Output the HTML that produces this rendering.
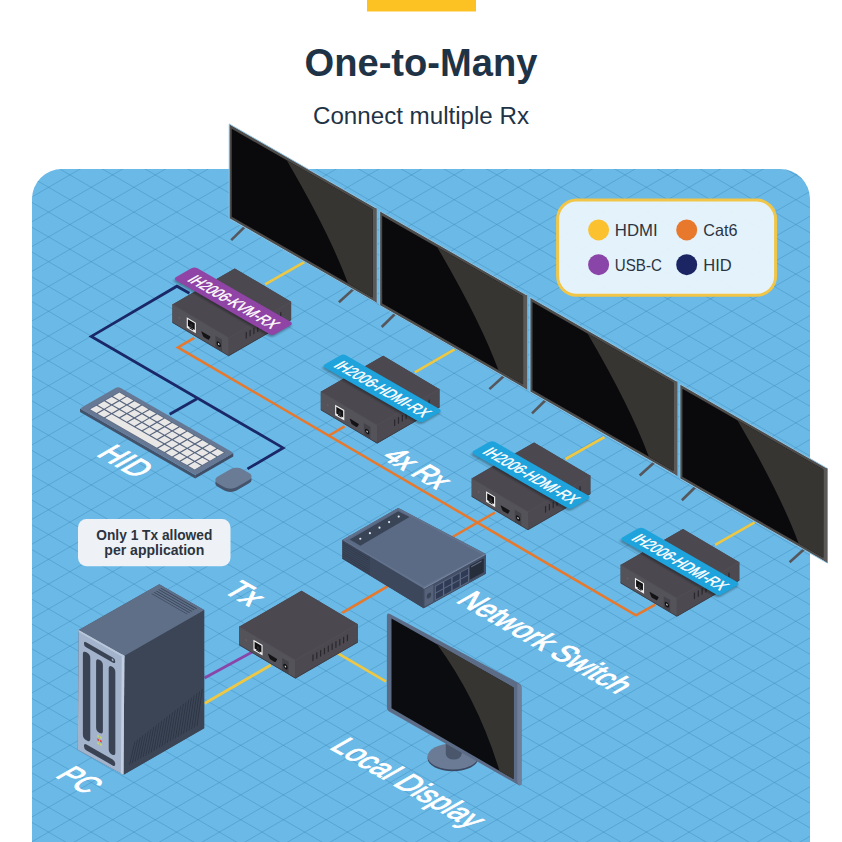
<!DOCTYPE html><html><head><meta charset="utf-8"><style>html,body{margin:0;padding:0;background:#fff;width:842px;height:842px;overflow:hidden}svg{display:block}</style></head><body><svg width="842" height="842" viewBox="0 0 842 842">
<rect width="842" height="842" fill="#ffffff"/>
<rect x="367" y="0" width="109" height="11.5" fill="#fcc224"/>
<text x="421" y="75.5" text-anchor="middle" font-family='"Liberation Sans", sans-serif' font-size="38.5" font-weight="bold" fill="#1f3347" textLength="233" lengthAdjust="spacingAndGlyphs">One-to-Many</text>
<text x="421" y="124" text-anchor="middle" font-family='"Liberation Sans", sans-serif' font-size="23.5" fill="#1f3347" textLength="216" lengthAdjust="spacingAndGlyphs">Connect multiple Rx</text>
<defs><filter id="blur" x="-20%" y="-50%" width="140%" height="200%"><feGaussianBlur stdDeviation="1.2"/></filter><clipPath id="bg"><rect x="32" y="169" width="778" height="720" rx="30"/></clipPath></defs>
<rect x="32" y="169" width="778" height="720" rx="30" fill="#6ab9e6"/>
<g clip-path="url(#bg)">
<path d="M0,-981.7 L842,-492.67 M0,-956.9 L842,-467.87 M0,-932.1 L842,-443.07 M0,-907.3 L842,-418.27 M0,-882.5 L842,-393.47 M0,-857.7 L842,-368.67 M0,-832.9 L842,-343.87 M0,-808.1 L842,-319.07 M0,-783.3 L842,-294.27 M0,-758.5 L842,-269.47 M0,-733.7 L842,-244.67 M0,-708.9 L842,-219.87 M0,-684.1 L842,-195.07 M0,-659.3 L842,-170.27 M0,-634.5 L842,-145.47 M0,-609.7 L842,-120.67 M0,-584.9 L842,-95.87 M0,-560.1 L842,-71.07 M0,-535.3 L842,-46.27 M0,-510.5 L842,-21.47 M0,-485.7 L842,3.33 M0,-460.9 L842,28.13 M0,-436.1 L842,52.93 M0,-411.3 L842,77.73 M0,-386.5 L842,102.53 M0,-361.7 L842,127.33 M0,-336.9 L842,152.13 M0,-312.1 L842,176.93 M0,-287.3 L842,201.73 M0,-262.5 L842,226.53 M0,-237.7 L842,251.33 M0,-212.9 L842,276.13 M0,-188.1 L842,300.93 M0,-163.3 L842,325.73 M0,-138.5 L842,350.53 M0,-113.7 L842,375.33 M0,-88.9 L842,400.13 M0,-64.1 L842,424.93 M0,-39.3 L842,449.73 M0,-14.5 L842,474.53 M0,10.3 L842,499.33 M0,35.1 L842,524.13 M0,59.9 L842,548.93 M0,84.7 L842,573.73 M0,109.5 L842,598.53 M0,134.3 L842,623.33 M0,159.1 L842,648.13 M0,183.9 L842,672.93 M0,208.7 L842,697.73 M0,233.5 L842,722.53 M0,258.3 L842,747.33 M0,283.1 L842,772.13 M0,307.9 L842,796.93 M0,332.7 L842,821.73 M0,357.5 L842,846.53 M0,382.3 L842,871.33 M0,407.1 L842,896.13 M0,431.9 L842,920.93 M0,456.7 L842,945.73 M0,481.5 L842,970.53 M0,506.3 L842,995.33 M0,531.1 L842,1020.13 M0,555.9 L842,1044.93 M0,580.7 L842,1069.73 M0,605.5 L842,1094.53 M0,630.3 L842,1119.33 M0,655.1 L842,1144.13 M0,679.9 L842,1168.93 M0,704.7 L842,1193.73 M0,729.5 L842,1218.53 M0,754.3 L842,1243.33 M0,779.1 L842,1268.13 M0,803.9 L842,1292.93 M0,828.7 L842,1317.73 M0,853.5 L842,1342.53 M0,878.3 L842,1367.33 M0,903.1 L842,1392.13 M0,927.9 L842,1416.93 M0,952.7 L842,1441.73 M0,977.5 L842,1466.53 M0,1002.3 L842,1491.33 M0,1027.1 L842,1516.13 M0,1051.9 L842,1540.93 M0,1076.7 L842,1565.73 M0,1101.5 L842,1590.53 M0,1126.3 L842,1615.33 M0,1151.1 L842,1640.13 M0,1175.9 L842,1664.93 M0,1200.7 L842,1689.73 M0,1225.5 L842,1714.53 M0,1250.3 L842,1739.33 M0,1275.1 L842,1764.13 M0,1299.9 L842,1788.93 M0,1324.7 L842,1813.73 M0,1349.5 L842,1838.53 M0,1374.3 L842,1863.33 M0,1399.1 L842,1888.13 M0,1423.9 L842,1912.93 M0,1448.7 L842,1937.73 M0,1473.5 L842,1962.53 M0,17.1 L842,-471.93 M0,41.9 L842,-447.13 M0,66.7 L842,-422.33 M0,91.5 L842,-397.53 M0,116.3 L842,-372.73 M0,141.1 L842,-347.93 M0,165.9 L842,-323.13 M0,190.7 L842,-298.33 M0,215.5 L842,-273.53 M0,240.3 L842,-248.73 M0,265.1 L842,-223.93 M0,289.9 L842,-199.13 M0,314.7 L842,-174.33 M0,339.5 L842,-149.53 M0,364.3 L842,-124.73 M0,389.1 L842,-99.93 M0,413.9 L842,-75.13 M0,438.7 L842,-50.33 M0,463.5 L842,-25.53 M0,488.3 L842,-0.73 M0,513.1 L842,24.07 M0,537.9 L842,48.87 M0,562.7 L842,73.67 M0,587.5 L842,98.47 M0,612.3 L842,123.27 M0,637.1 L842,148.07 M0,661.9 L842,172.87 M0,686.7 L842,197.67 M0,711.5 L842,222.47 M0,736.3 L842,247.27 M0,761.1 L842,272.07 M0,785.9 L842,296.87 M0,810.7 L842,321.67 M0,835.5 L842,346.47 M0,860.3 L842,371.27 M0,885.1 L842,396.07 M0,909.9 L842,420.87 M0,934.7 L842,445.67 M0,959.5 L842,470.47 M0,984.3 L842,495.27 M0,1009.1 L842,520.07 M0,1033.9 L842,544.87 M0,1058.7 L842,569.67 M0,1083.5 L842,594.47 M0,1108.3 L842,619.27 M0,1133.1 L842,644.07 M0,1157.9 L842,668.87 M0,1182.7 L842,693.67 M0,1207.5 L842,718.47 M0,1232.3 L842,743.27 M0,1257.1 L842,768.07 M0,1281.9 L842,792.87 M0,1306.7 L842,817.67 M0,1331.5 L842,842.47 M0,1356.3 L842,867.27 M0,1381.1 L842,892.07 M0,1405.9 L842,916.87 M0,1430.7 L842,941.67 M0,1455.5 L842,966.47 M0,1480.3 L842,991.27 M0,1505.1 L842,1016.07 M0,1529.9 L842,1040.87 M0,1554.7 L842,1065.67 M0,1579.5 L842,1090.47 M0,1604.3 L842,1115.27 M0,1629.1 L842,1140.07 M0,1653.9 L842,1164.87 M0,1678.7 L842,1189.67 M0,1703.5 L842,1214.47 M0,1728.3 L842,1239.27 M0,1753.1 L842,1264.07 M0,1777.9 L842,1288.87 M0,1802.7 L842,1313.67 M0,1827.5 L842,1338.47 M0,1852.3 L842,1363.27 M0,1877.1 L842,1388.07 M0,1901.9 L842,1412.87 M0,1926.7 L842,1437.67 M0,1951.5 L842,1462.47 M0,1976.3 L842,1487.27" stroke="#3d86b9" stroke-opacity="0.4" stroke-width="1" fill="none"/>
</g>
<polyline points="189.4,293.3 176.9,286.2 91.3,336.4 283.1,447.9 247.5,468.9" fill="none" stroke="#1b2868" stroke-width="2.8" stroke-linejoin="miter" />
<polyline points="197,398.7 169.7,414.3" fill="none" stroke="#1b2868" stroke-width="2.8" stroke-linejoin="miter" />
<polyline points="194.3,337.8 177.9,347.4 636,615.4 655.2,604.7" fill="none" stroke="#e8782b" stroke-width="2.5" stroke-linejoin="miter" />
<polyline points="328.2,436 344.6,426.4" fill="none" stroke="#e8782b" stroke-width="2.5" stroke-linejoin="miter" />
<polyline points="494.9,512.5 452.5,537" fill="none" stroke="#e8782b" stroke-width="2.5" stroke-linejoin="miter" />
<polyline points="342.3,612.9 388.8,585.7" fill="none" stroke="#e8782b" stroke-width="2.5" stroke-linejoin="miter" />
<polyline points="265.1,284.4 304.3,262.1" fill="none" stroke="#efc843" stroke-width="2.7" stroke-linejoin="miter" />
<polyline points="414.8,372.4 454.5,349.4" fill="none" stroke="#efc843" stroke-width="2.7" stroke-linejoin="miter" />
<polyline points="565.5,459 604.4,437.1" fill="none" stroke="#efc843" stroke-width="2.7" stroke-linejoin="miter" />
<polyline points="715.1,544.9 754.6,522.4" fill="none" stroke="#efc843" stroke-width="2.7" stroke-linejoin="miter" />
<polyline points="256,650 204.5,678" fill="none" stroke="#8a45a8" stroke-width="2.7" stroke-linejoin="miter" />
<polyline points="271,665 204.5,703.5" fill="none" stroke="#efc843" stroke-width="2.7" stroke-linejoin="miter" />
<polyline points="337.5,653.1 386.2,681.6" fill="none" stroke="#efc843" stroke-width="2.7" stroke-linejoin="miter" />
<polyline points="245.7,225.9 231.2,240.1" fill="none" stroke="#56575c" stroke-width="2.6" stroke-linejoin="miter" />
<polyline points="354.2,288.4 338.9,302.2" fill="none" stroke="#56575c" stroke-width="2.6" stroke-linejoin="miter" />
<polygon points="229.2,123.9 376.7,208.4 376.7,303 229.2,218.5" fill="#4e4c4b" stroke="#93c9ea" stroke-width="0.9" stroke-linejoin="round"/>
<polygon points="372.57,207.93 376.7,208.4 376.7,303 372.57,299.21" fill="#5b5958" />
<polygon points="231.71,128.74 372.57,209.44 372.57,297.42 231.71,216.72" fill="#0a0a0c" />
<path d="M286.72,160.26 Q329.5,233.39 347.94,283.31 L372.57,297.42 L372.57,209.44 Z" fill="#373532"/>
<polyline points="396.2,312.8 381.7,327" fill="none" stroke="#56575c" stroke-width="2.6" stroke-linejoin="miter" />
<polyline points="504.7,375.3 489.4,389.1" fill="none" stroke="#56575c" stroke-width="2.6" stroke-linejoin="miter" />
<polygon points="379.7,210.8 527.2,295.3 527.2,389.9 379.7,305.4" fill="#4e4c4b" stroke="#93c9ea" stroke-width="0.9" stroke-linejoin="round"/>
<polygon points="523.07,294.83 527.2,295.3 527.2,389.9 523.07,386.12" fill="#5b5958" />
<polygon points="382.21,215.64 523.07,296.34 523.07,384.32 382.21,303.62" fill="#0a0a0c" />
<path d="M437.22,247.16 Q480,320.29 498.44,370.21 L523.07,384.32 L523.07,296.34 Z" fill="#373532"/>
<polyline points="546.5,399.2 532,413.4" fill="none" stroke="#56575c" stroke-width="2.6" stroke-linejoin="miter" />
<polyline points="655,461.7 639.7,475.5" fill="none" stroke="#56575c" stroke-width="2.6" stroke-linejoin="miter" />
<polygon points="530,297.2 677.5,381.7 677.5,476.3 530,391.8" fill="#4e4c4b" stroke="#93c9ea" stroke-width="0.9" stroke-linejoin="round"/>
<polygon points="673.37,381.23 677.5,381.7 677.5,476.3 673.37,472.51" fill="#5b5958" />
<polygon points="532.51,302.04 673.37,382.74 673.37,470.72 532.51,390.02" fill="#0a0a0c" />
<path d="M587.52,333.56 Q630.3,406.69 648.74,456.61 L673.37,470.72 L673.37,382.74 Z" fill="#373532"/>
<polyline points="696.4,486 681.9,500.2" fill="none" stroke="#56575c" stroke-width="2.6" stroke-linejoin="miter" />
<polyline points="804.9,548.5 789.6,562.3" fill="none" stroke="#56575c" stroke-width="2.6" stroke-linejoin="miter" />
<polygon points="679.9,384 827.4,468.5 827.4,563.1 679.9,478.6" fill="#4e4c4b" stroke="#93c9ea" stroke-width="0.9" stroke-linejoin="round"/>
<polygon points="823.27,468.03 827.4,468.5 827.4,563.1 823.27,559.32" fill="#5b5958" />
<polygon points="682.41,388.84 823.27,469.54 823.27,557.52 682.41,476.82" fill="#0a0a0c" />
<path d="M737.42,420.36 Q780.2,493.49 798.64,543.41 L823.27,557.52 L823.27,469.54 Z" fill="#373532"/>
<polygon points="79.99,408.6 195.18,475.1 195.18,478.4 79.99,411.9" fill="#43526b" />
<polygon points="195.18,475.1 233.28,453.1 233.28,456.4 195.18,478.4" fill="#3f4d66" />
<g transform="matrix(0.87,0.5,-0.87,0.5,118.1,386.6)"><rect x="0" y="0" width="133" height="44" rx="3" fill="#667894"/><rect x="6" y="4.5" width="121.5" height="35.0" fill="#56647e"/><rect x="6.67" y="5.17" width="7.33" height="7.4" fill="#e9e8e6"/><rect x="15.35" y="5.17" width="7.33" height="7.4" fill="#e9e8e6"/><rect x="24.03" y="5.17" width="7.33" height="7.4" fill="#e9e8e6"/><rect x="32.71" y="5.17" width="7.33" height="7.4" fill="#e9e8e6"/><rect x="41.39" y="5.17" width="7.33" height="7.4" fill="#e9e8e6"/><rect x="50.07" y="5.17" width="7.33" height="7.4" fill="#e9e8e6"/><rect x="58.75" y="5.17" width="7.33" height="7.4" fill="#e9e8e6"/><rect x="67.42" y="5.17" width="7.33" height="7.4" fill="#e9e8e6"/><rect x="76.1" y="5.17" width="7.33" height="7.4" fill="#e9e8e6"/><rect x="84.78" y="5.17" width="7.33" height="7.4" fill="#e9e8e6"/><rect x="93.46" y="5.17" width="7.33" height="7.4" fill="#e9e8e6"/><rect x="102.14" y="5.17" width="7.33" height="7.4" fill="#e9e8e6"/><rect x="110.82" y="5.17" width="7.33" height="7.4" fill="#e9e8e6"/><rect x="119.5" y="5.17" width="7.33" height="7.4" fill="#e9e8e6"/><rect x="6.67" y="13.93" width="7.33" height="7.4" fill="#e9e8e6"/><rect x="15.35" y="13.93" width="7.33" height="7.4" fill="#e9e8e6"/><rect x="24.03" y="13.93" width="7.33" height="7.4" fill="#e9e8e6"/><rect x="32.71" y="13.93" width="7.33" height="7.4" fill="#e9e8e6"/><rect x="41.39" y="13.93" width="7.33" height="7.4" fill="#e9e8e6"/><rect x="50.07" y="13.93" width="7.33" height="7.4" fill="#e9e8e6"/><rect x="58.75" y="13.93" width="7.33" height="7.4" fill="#e9e8e6"/><rect x="67.42" y="13.93" width="7.33" height="7.4" fill="#e9e8e6"/><rect x="76.1" y="13.93" width="7.33" height="7.4" fill="#e9e8e6"/><rect x="84.78" y="13.93" width="7.33" height="7.4" fill="#e9e8e6"/><rect x="93.46" y="13.93" width="7.33" height="7.4" fill="#e9e8e6"/><rect x="102.14" y="13.93" width="7.33" height="7.4" fill="#e9e8e6"/><rect x="110.82" y="13.93" width="7.33" height="7.4" fill="#e9e8e6"/><rect x="119.5" y="13.93" width="7.33" height="7.4" fill="#e9e8e6"/><rect x="6.67" y="22.68" width="7.33" height="7.4" fill="#e9e8e6"/><rect x="15.35" y="22.68" width="7.33" height="7.4" fill="#e9e8e6"/><rect x="24.03" y="22.68" width="7.33" height="7.4" fill="#e9e8e6"/><rect x="32.71" y="22.68" width="7.33" height="7.4" fill="#e9e8e6"/><rect x="41.39" y="22.68" width="7.33" height="7.4" fill="#e9e8e6"/><rect x="50.07" y="22.68" width="7.33" height="7.4" fill="#e9e8e6"/><rect x="58.75" y="22.68" width="7.33" height="7.4" fill="#e9e8e6"/><rect x="67.42" y="22.68" width="7.33" height="7.4" fill="#e9e8e6"/><rect x="76.1" y="22.68" width="7.33" height="7.4" fill="#e9e8e6"/><rect x="84.78" y="22.68" width="7.33" height="7.4" fill="#e9e8e6"/><rect x="93.46" y="22.68" width="7.33" height="7.4" fill="#e9e8e6"/><rect x="102.14" y="22.68" width="7.33" height="7.4" fill="#e9e8e6"/><rect x="110.82" y="22.68" width="7.33" height="7.4" fill="#e9e8e6"/><rect x="119.5" y="22.68" width="7.33" height="7.4" fill="#e9e8e6"/><rect x="6.67" y="31.43" width="7.33" height="7.4" fill="#e9e8e6"/><rect x="15.35" y="31.43" width="7.33" height="7.4" fill="#e9e8e6"/><rect x="24.03" y="31.43" width="59.4" height="7.4" fill="#e9e8e6"/><rect x="84.78" y="31.43" width="7.33" height="7.4" fill="#e9e8e6"/><rect x="93.46" y="31.43" width="7.33" height="7.4" fill="#e9e8e6"/><rect x="102.14" y="31.43" width="7.33" height="7.4" fill="#e9e8e6"/><rect x="110.82" y="31.43" width="7.33" height="7.4" fill="#e9e8e6"/><rect x="119.5" y="31.43" width="7.33" height="7.4" fill="#e9e8e6"/></g>
<g transform="translate(0,3.2)"><g transform="matrix(0.87,0.5,-0.87,0.5,236.5,465.8)"><rect x="0" y="0" width="21.5" height="28.5" rx="7" fill="#45536b"/></g></g>
<g transform="matrix(0.87,0.5,-0.87,0.5,236.5,465.8)"><rect x="0" y="0" width="21.5" height="28.5" rx="7" fill="#6a7b96"/></g>
<polygon points="159.3,584.2 204.2,609.9 204.2,728.2 123.5,774.8 77.8,749.8 78.7,629.9" fill="#4a566a" />
<polygon points="124.4,655.7 204.2,609.9 204.2,728.2 123.5,774.8" fill="#3b4556" />
<polygon points="78.7,629.9 124.4,655.7 123.5,774.8 77.8,749.8" fill="#a3b3cb" />
<polygon points="159.3,584.2 204.2,609.9 124.4,655.7 78.7,629.9" fill="#5f6f88" />
<polygon points="124.4,655.7 121.8,654.2 120.9,773.3 123.5,774.8" fill="#c3cfe0" />
<polygon points="78.7,629.9 124.4,655.7 124.4,657.9 78.7,632.1" fill="#b9c7da" />
<g transform="matrix(0.87,0.5,-0.87,0.5,159.3,584.2)"><rect x="5" y="2.6" width="41" height="0.85" fill="#3a4559"/><rect x="5" y="5.3" width="41" height="0.85" fill="#3a4559"/><rect x="5" y="8" width="41" height="0.85" fill="#3a4559"/><rect x="5" y="10.7" width="41" height="0.85" fill="#3a4559"/><rect x="5" y="13.4" width="41" height="0.85" fill="#3a4559"/></g>
<g transform="matrix(0.87,0.5,0,1,78.7,629.9)" fill="#394354"><rect x="6" y="8" width="36" height="5" rx="2.5"/><circle cx="39" cy="10.5" r="1.1" fill="#a3b3cb"/><rect x="4.8" y="18" width="8.5" height="88" rx="3.5"/><rect x="20" y="18" width="7.8" height="73" rx="3.5"/><rect x="34.5" y="17.5" width="7.6" height="88" rx="3.5"/><rect x="6" y="110" width="36" height="6" rx="3"/><rect x="21.5" y="94" width="2" height="2" fill="#c8d86a"/><rect x="24.5" y="94" width="2" height="2" fill="#c8d86a"/><rect x="21.5" y="97.5" width="2" height="2" fill="#e0453a"/><rect x="24.5" y="97.5" width="2" height="2" fill="#e0453a"/><rect x="21.5" y="101" width="2" height="2" fill="#c8d86a"/><rect x="24.5" y="101" width="2" height="2" fill="#c8d86a"/></g>
<g transform="matrix(0.87,-0.5,0,1,124.4,655.7)" stroke="#2b3342" stroke-width="0.9"><line x1="6" y1="112" x2="12" y2="92"/><line x1="9.1" y1="112" x2="15.1" y2="91.45"/><line x1="12.2" y1="112" x2="18.2" y2="90.9"/><line x1="15.3" y1="112" x2="21.3" y2="90.35"/><line x1="18.4" y1="112" x2="24.4" y2="89.8"/><line x1="21.5" y1="112" x2="27.5" y2="89.25"/><line x1="24.6" y1="112" x2="30.6" y2="88.7"/><line x1="27.7" y1="112" x2="33.7" y2="88.15"/><line x1="30.8" y1="112" x2="36.8" y2="87.6"/><line x1="33.9" y1="112" x2="39.9" y2="87.05"/><line x1="37" y1="112" x2="43" y2="86.5"/><line x1="40.1" y1="112" x2="46.1" y2="85.95"/><line x1="43.2" y1="112" x2="49.2" y2="85.4"/><line x1="46.3" y1="112" x2="52.3" y2="84.85"/><line x1="49.4" y1="112" x2="55.4" y2="84.3"/><line x1="52.5" y1="112" x2="58.5" y2="83.75"/><line x1="55.6" y1="112" x2="61.6" y2="83.2"/><line x1="58.7" y1="112" x2="64.7" y2="82.65"/><line x1="61.8" y1="112" x2="67.8" y2="82.1"/><line x1="64.9" y1="112" x2="70.9" y2="81.55"/><line x1="68" y1="112" x2="74" y2="81"/><line x1="71.1" y1="112" x2="77.1" y2="80.45"/><line x1="74.2" y1="112" x2="80.2" y2="79.9"/><line x1="77.3" y1="112" x2="83.3" y2="79.35"/><line x1="80.4" y1="112" x2="86.4" y2="78.8"/><line x1="83.5" y1="112" x2="89.5" y2="78.25"/></g>
<polygon points="398.2,507.9 485.8,554.1 485.8,573.8 423.7,608.3 342.3,558.7 342.3,540.1" fill="#414c61" />
<polygon points="342.3,540.1 423.7,588.5 423.7,608.3 342.3,558.7" fill="#3d475b" />
<polygon points="423.7,588.5 485.8,554.1 485.8,573.8 423.7,608.3" fill="#434f66" />
<polygon points="398.2,507.9 485.8,554.1 423.7,588.5 342.3,540.1" fill="#63728d" />
<polygon points="398.2,507.9 398.7,510.1 482.6,554.7 423.9,586.1 345.7,540.5" fill="#5b6a85" />
<polygon points="349.7,539.5 398.2,511.3 409.5,516.9 360.4,545.7" fill="#394457" />
<circle cx="360.3" cy="538.73" r="1.1" fill="#dfe7f0"/>
<circle cx="369.9" cy="533.19" r="1.1" fill="#dfe7f0"/>
<circle cx="379.5" cy="527.65" r="1.1" fill="#dfe7f0"/>
<circle cx="389.1" cy="522.11" r="1.1" fill="#dfe7f0"/>
<circle cx="398.7" cy="516.57" r="1.1" fill="#dfe7f0"/>
<g transform="matrix(0.87,0.51,0,1,342.3,540.1)"><rect x="0.5" y="2" width="30" height="0.8" fill="#2f394a"/><rect x="0.5" y="4.2" width="30" height="0.8" fill="#2f394a"/><rect x="0.5" y="6.4" width="30" height="0.8" fill="#2f394a"/><rect x="0.5" y="8.6" width="30" height="0.8" fill="#2f394a"/><rect x="0.5" y="10.8" width="30" height="0.8" fill="#2f394a"/><rect x="0.5" y="13" width="30" height="0.8" fill="#2f394a"/><rect x="0.5" y="15.2" width="30" height="0.8" fill="#2f394a"/><rect x="0.5" y="17.4" width="30" height="0.8" fill="#2f394a"/><rect x="30.5" y="0" width="1" height="19" fill="#36415a"/></g>
<g transform="matrix(0.87,-0.48,0,1,423.7,588.5)"><rect x="0" y="-0.6" width="71.7" height="1" fill="#7d8ca6"/><rect x="1" y="1.5" width="10" height="17" fill="#56627a"/><circle cx="6" cy="10" r="2.6" fill="#3a4457"/><rect x="13" y="3.6" width="39" height="15" fill="#5a6780"/><rect x="14" y="4.6" width="8.1" height="5.9" fill="#2f3b55"/><rect x="23.6" y="4.6" width="8.1" height="5.9" fill="#2f3b55"/><rect x="33.2" y="4.6" width="8.1" height="5.9" fill="#2f3b55"/><rect x="42.8" y="4.6" width="8.1" height="5.9" fill="#2f3b55"/><rect x="14" y="11.6" width="8.1" height="5.9" fill="#2f3b55"/><rect x="23.6" y="11.6" width="8.1" height="5.9" fill="#2f3b55"/><rect x="33.2" y="11.6" width="8.1" height="5.9" fill="#2f3b55"/><rect x="42.8" y="11.6" width="8.1" height="5.9" fill="#2f3b55"/><rect x="53" y="2.8" width="16" height="14" fill="#262d3b"/><rect x="54.5" y="4" width="12" height="1.2" fill="#5e6b84"/></g>
<ellipse cx="452.9" cy="758.3" rx="25.3" ry="13" fill="#3b4861"/>
<ellipse cx="452.9" cy="756.5" rx="25.3" ry="13" fill="#6b7b96"/>
<rect x="445.8" y="735" width="15.8" height="19" fill="#4a566c"/>
<ellipse cx="453.7" cy="754" rx="7.9" ry="5.6" fill="#4a566c"/>
<path d="M386.9,616 Q386.9,612.4 390,614 L518.5,683 Q521.5,684.5 521.5,688 L521.5,783 Q521.5,786.5 518.5,785 L390,712 Q386.9,710.5 386.9,707 Z" fill="#5c6c87"/>
<polygon points="517.3,683.5 519,684 521.5,686.5 521.5,784.5 519,785.5 517.3,782" fill="#6f7f9a" />
<polygon points="391.5,618.5 513.5,687.5 513.5,779 391.5,708.3" fill="#0b0c0f" />
<path d="M436.6,643.5 Q478,700 499.5,771 L513.5,779 L513.5,687.5 Z" fill="#373532"/>
<polygon points="301.5,590.8 357.8,624.2 357.8,642.2 295.4,678.2 239.1,644.8 239.1,626.8" fill="#47454b" />
<polygon points="239.1,626.8 295.4,660.2 295.4,678.2 239.1,644.8" fill="#55535a" />
<polygon points="295.4,660.2 357.8,624.2 357.8,642.2 295.4,678.2" fill="#4c4a50" />
<polygon points="301.5,590.8 357.8,624.2 295.4,660.2 239.1,626.8" fill="#4b4850" />
<polyline points="239.1,626.8 295.4,660.2 357.8,624.2" fill="none" stroke="#55525a" stroke-width="0.7" stroke-linejoin="miter" />
<polyline points="239.1,644.8 295.4,678.2 357.8,642.2" fill="none" stroke="#3a3840" stroke-width="0.8" stroke-linejoin="miter" />
<g transform="matrix(0.87,0.51,0,1,239.1,626.8)"><circle cx="8" cy="9.3" r="1.1" fill="#6b5a60"/><rect x="16.5" y="4.5" width="10.5" height="10.5" fill="#f0f0f0"/><rect x="17.8" y="5.8" width="7.9" height="6.8" fill="#121214"/><rect x="19.6" y="12.6" width="4.3" height="1.2" fill="#121214"/><circle cx="21.9" cy="10" r="1.6" fill="#2a2a2e"/><path d="M33.8,9.8 L43.2,9.8 Q44,9.8 43.6,10.6 L42,13.6 Q41.6,14.3 40.8,14.3 L36.2,14.3 Q35.4,14.3 35,13.6 L33.4,10.6 Q33,9.8 33.8,9.8 Z" fill="#141416"/><rect x="49.5" y="6" width="7.5" height="12" fill="#45434a"/><circle cx="53.25" cy="12.6" r="2.5" fill="#131315"/><circle cx="53.25" cy="12.6" r="0.9" fill="#d8d8d8"/></g>
<g transform="matrix(0.87,-0.5,0,1,295.4,660.2)"><rect x="19.5" y="4.3" width="1.4" height="6.6" rx="0.5" fill="#2a282d"/><rect x="23.9" y="4.3" width="1.4" height="6.6" rx="0.5" fill="#2a282d"/><rect x="28.3" y="4.3" width="1.4" height="6.6" rx="0.5" fill="#2a282d"/><rect x="32.7" y="4.3" width="1.4" height="6.6" rx="0.5" fill="#2a282d"/><rect x="37.1" y="4.3" width="1.4" height="6.6" rx="0.5" fill="#2a282d"/><rect x="41.5" y="4.3" width="1.4" height="6.6" rx="0.5" fill="#2a282d"/><rect x="45.9" y="4.3" width="1.4" height="6.6" rx="0.5" fill="#2a282d"/><rect x="50.3" y="4.3" width="1.4" height="6.6" rx="0.5" fill="#2a282d"/><rect x="54.7" y="4.3" width="1.4" height="6.6" rx="0.5" fill="#2a282d"/><rect x="59.1" y="4.3" width="1.4" height="6.6" rx="0.5" fill="#2a282d"/></g>
<polygon points="234.8,268.4 291.1,301.8 291.1,319.8 228.7,355.8 172.4,322.4 172.4,304.4" fill="#47454b" />
<polygon points="172.4,304.4 228.7,337.8 228.7,355.8 172.4,322.4" fill="#55535a" />
<polygon points="228.7,337.8 291.1,301.8 291.1,319.8 228.7,355.8" fill="#4c4a50" />
<polygon points="234.8,268.4 291.1,301.8 228.7,337.8 172.4,304.4" fill="#4b4850" />
<polyline points="172.4,304.4 228.7,337.8 291.1,301.8" fill="none" stroke="#55525a" stroke-width="0.7" stroke-linejoin="miter" />
<polyline points="172.4,322.4 228.7,355.8 291.1,319.8" fill="none" stroke="#3a3840" stroke-width="0.8" stroke-linejoin="miter" />
<g transform="matrix(0.87,0.51,0,1,172.4,304.4)"><circle cx="8" cy="9.3" r="1.1" fill="#6b5a60"/><rect x="16.5" y="4.5" width="10.5" height="10.5" fill="#f0f0f0"/><rect x="17.8" y="5.8" width="7.9" height="6.8" fill="#121214"/><rect x="19.6" y="12.6" width="4.3" height="1.2" fill="#121214"/><circle cx="21.9" cy="10" r="1.6" fill="#2a2a2e"/><path d="M33.8,9.8 L43.2,9.8 Q44,9.8 43.6,10.6 L42,13.6 Q41.6,14.3 40.8,14.3 L36.2,14.3 Q35.4,14.3 35,13.6 L33.4,10.6 Q33,9.8 33.8,9.8 Z" fill="#141416"/><rect x="49.5" y="6" width="7.5" height="12" fill="#45434a"/><circle cx="53.25" cy="12.6" r="2.5" fill="#131315"/><circle cx="53.25" cy="12.6" r="0.9" fill="#d8d8d8"/></g>
<g transform="matrix(0.87,-0.5,0,1,228.7,337.8)"><rect x="19.5" y="4.3" width="1.4" height="6.6" rx="0.5" fill="#2a282d"/><rect x="23.9" y="4.3" width="1.4" height="6.6" rx="0.5" fill="#2a282d"/><rect x="28.3" y="4.3" width="1.4" height="6.6" rx="0.5" fill="#2a282d"/><rect x="32.7" y="4.3" width="1.4" height="6.6" rx="0.5" fill="#2a282d"/><rect x="37.1" y="4.3" width="1.4" height="6.6" rx="0.5" fill="#2a282d"/><rect x="41.5" y="4.3" width="1.4" height="6.6" rx="0.5" fill="#2a282d"/><rect x="45.9" y="4.3" width="1.4" height="6.6" rx="0.5" fill="#2a282d"/><rect x="50.3" y="4.3" width="1.4" height="6.6" rx="0.5" fill="#2a282d"/><rect x="54.7" y="4.3" width="1.4" height="6.6" rx="0.5" fill="#2a282d"/><rect x="59.1" y="4.3" width="1.4" height="6.6" rx="0.5" fill="#2a282d"/></g>
<g transform="matrix(0.87,0.5,-0.87,0.5,234.8,268.4)"><rect x="-25" y="21.35" width="114" height="24.5" rx="3.5" fill="#000" opacity="0.3" filter="url(#blur)" transform="translate(1.5,2.5)"/><rect x="-25" y="21.35" width="114" height="24.5" rx="3.5" fill="#8f44a6"/><text x="-15.7" y="39.9" font-family='"Liberation Sans", sans-serif' font-size="17" fill="#fff" stroke="#fff" stroke-width="0.5" textLength="97" lengthAdjust="spacingAndGlyphs">IH2006-KVM-RX</text></g>
<polygon points="383.2,355.8 439.5,389.2 439.5,407.2 377.1,443.2 320.8,409.8 320.8,391.8" fill="#47454b" />
<polygon points="320.8,391.8 377.1,425.2 377.1,443.2 320.8,409.8" fill="#55535a" />
<polygon points="377.1,425.2 439.5,389.2 439.5,407.2 377.1,443.2" fill="#4c4a50" />
<polygon points="383.2,355.8 439.5,389.2 377.1,425.2 320.8,391.8" fill="#4b4850" />
<polyline points="320.8,391.8 377.1,425.2 439.5,389.2" fill="none" stroke="#55525a" stroke-width="0.7" stroke-linejoin="miter" />
<polyline points="320.8,409.8 377.1,443.2 439.5,407.2" fill="none" stroke="#3a3840" stroke-width="0.8" stroke-linejoin="miter" />
<g transform="matrix(0.87,0.51,0,1,320.8,391.8)"><circle cx="8" cy="9.3" r="1.1" fill="#6b5a60"/><rect x="16.5" y="4.5" width="10.5" height="10.5" fill="#f0f0f0"/><rect x="17.8" y="5.8" width="7.9" height="6.8" fill="#121214"/><rect x="19.6" y="12.6" width="4.3" height="1.2" fill="#121214"/><circle cx="21.9" cy="10" r="1.6" fill="#2a2a2e"/><path d="M33.8,9.8 L43.2,9.8 Q44,9.8 43.6,10.6 L42,13.6 Q41.6,14.3 40.8,14.3 L36.2,14.3 Q35.4,14.3 35,13.6 L33.4,10.6 Q33,9.8 33.8,9.8 Z" fill="#141416"/><rect x="49.5" y="6" width="7.5" height="12" fill="#45434a"/><circle cx="53.25" cy="12.6" r="2.5" fill="#131315"/><circle cx="53.25" cy="12.6" r="0.9" fill="#d8d8d8"/></g>
<g transform="matrix(0.87,-0.5,0,1,377.1,425.2)"><rect x="19.5" y="4.3" width="1.4" height="6.6" rx="0.5" fill="#2a282d"/><rect x="23.9" y="4.3" width="1.4" height="6.6" rx="0.5" fill="#2a282d"/><rect x="28.3" y="4.3" width="1.4" height="6.6" rx="0.5" fill="#2a282d"/><rect x="32.7" y="4.3" width="1.4" height="6.6" rx="0.5" fill="#2a282d"/><rect x="37.1" y="4.3" width="1.4" height="6.6" rx="0.5" fill="#2a282d"/><rect x="41.5" y="4.3" width="1.4" height="6.6" rx="0.5" fill="#2a282d"/><rect x="45.9" y="4.3" width="1.4" height="6.6" rx="0.5" fill="#2a282d"/><rect x="50.3" y="4.3" width="1.4" height="6.6" rx="0.5" fill="#2a282d"/><rect x="54.7" y="4.3" width="1.4" height="6.6" rx="0.5" fill="#2a282d"/><rect x="59.1" y="4.3" width="1.4" height="6.6" rx="0.5" fill="#2a282d"/></g>
<g transform="matrix(0.87,0.5,-0.87,0.5,383.2,355.8)"><rect x="-25" y="20.85" width="114" height="24.5" rx="3.5" fill="#000" opacity="0.3" filter="url(#blur)" transform="translate(1.5,2.5)"/><rect x="-25" y="20.85" width="114" height="24.5" rx="3.5" fill="#1fa3dc"/><text x="-18.7" y="39.4" font-family='"Liberation Sans", sans-serif' font-size="17" fill="#fff" stroke="#fff" stroke-width="0.5" textLength="103" lengthAdjust="spacingAndGlyphs">IH2006-HDMI-RX</text></g>
<polygon points="534.1,442.4 590.4,475.8 590.4,493.8 528,529.8 471.7,496.4 471.7,478.4" fill="#47454b" />
<polygon points="471.7,478.4 528,511.8 528,529.8 471.7,496.4" fill="#55535a" />
<polygon points="528,511.8 590.4,475.8 590.4,493.8 528,529.8" fill="#4c4a50" />
<polygon points="534.1,442.4 590.4,475.8 528,511.8 471.7,478.4" fill="#4b4850" />
<polyline points="471.7,478.4 528,511.8 590.4,475.8" fill="none" stroke="#55525a" stroke-width="0.7" stroke-linejoin="miter" />
<polyline points="471.7,496.4 528,529.8 590.4,493.8" fill="none" stroke="#3a3840" stroke-width="0.8" stroke-linejoin="miter" />
<g transform="matrix(0.87,0.51,0,1,471.7,478.4)"><circle cx="8" cy="9.3" r="1.1" fill="#6b5a60"/><rect x="16.5" y="4.5" width="10.5" height="10.5" fill="#f0f0f0"/><rect x="17.8" y="5.8" width="7.9" height="6.8" fill="#121214"/><rect x="19.6" y="12.6" width="4.3" height="1.2" fill="#121214"/><circle cx="21.9" cy="10" r="1.6" fill="#2a2a2e"/><path d="M33.8,9.8 L43.2,9.8 Q44,9.8 43.6,10.6 L42,13.6 Q41.6,14.3 40.8,14.3 L36.2,14.3 Q35.4,14.3 35,13.6 L33.4,10.6 Q33,9.8 33.8,9.8 Z" fill="#141416"/><rect x="49.5" y="6" width="7.5" height="12" fill="#45434a"/><circle cx="53.25" cy="12.6" r="2.5" fill="#131315"/><circle cx="53.25" cy="12.6" r="0.9" fill="#d8d8d8"/></g>
<g transform="matrix(0.87,-0.5,0,1,528,511.8)"><rect x="19.5" y="4.3" width="1.4" height="6.6" rx="0.5" fill="#2a282d"/><rect x="23.9" y="4.3" width="1.4" height="6.6" rx="0.5" fill="#2a282d"/><rect x="28.3" y="4.3" width="1.4" height="6.6" rx="0.5" fill="#2a282d"/><rect x="32.7" y="4.3" width="1.4" height="6.6" rx="0.5" fill="#2a282d"/><rect x="37.1" y="4.3" width="1.4" height="6.6" rx="0.5" fill="#2a282d"/><rect x="41.5" y="4.3" width="1.4" height="6.6" rx="0.5" fill="#2a282d"/><rect x="45.9" y="4.3" width="1.4" height="6.6" rx="0.5" fill="#2a282d"/><rect x="50.3" y="4.3" width="1.4" height="6.6" rx="0.5" fill="#2a282d"/><rect x="54.7" y="4.3" width="1.4" height="6.6" rx="0.5" fill="#2a282d"/><rect x="59.1" y="4.3" width="1.4" height="6.6" rx="0.5" fill="#2a282d"/></g>
<g transform="matrix(0.87,0.5,-0.87,0.5,534.1,442.4)"><rect x="-26.2" y="22.05" width="114" height="24.5" rx="3.5" fill="#000" opacity="0.3" filter="url(#blur)" transform="translate(1.5,2.5)"/><rect x="-26.2" y="22.05" width="114" height="24.5" rx="3.5" fill="#1fa3dc"/><text x="-19.9" y="40.6" font-family='"Liberation Sans", sans-serif' font-size="17" fill="#fff" stroke="#fff" stroke-width="0.5" textLength="103" lengthAdjust="spacingAndGlyphs">IH2006-HDMI-RX</text></g>
<polygon points="683,528.9 739.3,562.3 739.3,580.3 676.9,616.3 620.6,582.9 620.6,564.9" fill="#47454b" />
<polygon points="620.6,564.9 676.9,598.3 676.9,616.3 620.6,582.9" fill="#55535a" />
<polygon points="676.9,598.3 739.3,562.3 739.3,580.3 676.9,616.3" fill="#4c4a50" />
<polygon points="683,528.9 739.3,562.3 676.9,598.3 620.6,564.9" fill="#4b4850" />
<polyline points="620.6,564.9 676.9,598.3 739.3,562.3" fill="none" stroke="#55525a" stroke-width="0.7" stroke-linejoin="miter" />
<polyline points="620.6,582.9 676.9,616.3 739.3,580.3" fill="none" stroke="#3a3840" stroke-width="0.8" stroke-linejoin="miter" />
<g transform="matrix(0.87,0.51,0,1,620.6,564.9)"><circle cx="8" cy="9.3" r="1.1" fill="#6b5a60"/><rect x="16.5" y="4.5" width="10.5" height="10.5" fill="#f0f0f0"/><rect x="17.8" y="5.8" width="7.9" height="6.8" fill="#121214"/><rect x="19.6" y="12.6" width="4.3" height="1.2" fill="#121214"/><circle cx="21.9" cy="10" r="1.6" fill="#2a2a2e"/><path d="M33.8,9.8 L43.2,9.8 Q44,9.8 43.6,10.6 L42,13.6 Q41.6,14.3 40.8,14.3 L36.2,14.3 Q35.4,14.3 35,13.6 L33.4,10.6 Q33,9.8 33.8,9.8 Z" fill="#141416"/><rect x="49.5" y="6" width="7.5" height="12" fill="#45434a"/><circle cx="53.25" cy="12.6" r="2.5" fill="#131315"/><circle cx="53.25" cy="12.6" r="0.9" fill="#d8d8d8"/></g>
<g transform="matrix(0.87,-0.5,0,1,676.9,598.3)"><rect x="19.5" y="4.3" width="1.4" height="6.6" rx="0.5" fill="#2a282d"/><rect x="23.9" y="4.3" width="1.4" height="6.6" rx="0.5" fill="#2a282d"/><rect x="28.3" y="4.3" width="1.4" height="6.6" rx="0.5" fill="#2a282d"/><rect x="32.7" y="4.3" width="1.4" height="6.6" rx="0.5" fill="#2a282d"/><rect x="37.1" y="4.3" width="1.4" height="6.6" rx="0.5" fill="#2a282d"/><rect x="41.5" y="4.3" width="1.4" height="6.6" rx="0.5" fill="#2a282d"/><rect x="45.9" y="4.3" width="1.4" height="6.6" rx="0.5" fill="#2a282d"/><rect x="50.3" y="4.3" width="1.4" height="6.6" rx="0.5" fill="#2a282d"/><rect x="54.7" y="4.3" width="1.4" height="6.6" rx="0.5" fill="#2a282d"/><rect x="59.1" y="4.3" width="1.4" height="6.6" rx="0.5" fill="#2a282d"/></g>
<g transform="matrix(0.87,0.5,-0.87,0.5,683,528.9)"><rect x="-26.2" y="22.05" width="114" height="24.5" rx="3.5" fill="#000" opacity="0.3" filter="url(#blur)" transform="translate(1.5,2.5)"/><rect x="-26.2" y="22.05" width="114" height="24.5" rx="3.5" fill="#1fa3dc"/><text x="-19.9" y="40.6" font-family='"Liberation Sans", sans-serif' font-size="17" fill="#fff" stroke="#fff" stroke-width="0.5" textLength="103" lengthAdjust="spacingAndGlyphs">IH2006-HDMI-RX</text></g>
<text transform="matrix(0.87,0.5,-0.87,0.5,95.5,455)" font-family='"Liberation Sans", sans-serif' font-size="33" font-weight="normal" fill="#fff" stroke="#fff" stroke-width="1.1" textLength="47" lengthAdjust="spacingAndGlyphs">HID</text>
<text transform="matrix(0.87,0.5,-0.87,0.5,380.5,457.5)" font-family='"Liberation Sans", sans-serif' font-size="31" font-weight="normal" fill="#fff" stroke="#fff" stroke-width="1.2" textLength="64" lengthAdjust="spacingAndGlyphs">4x Rx</text>
<text transform="matrix(0.87,0.5,-0.87,0.5,455,601.5)" font-family='"Liberation Sans", sans-serif' font-size="33" font-weight="normal" fill="#fff" stroke="#fff" stroke-width="1.1" textLength="186" lengthAdjust="spacingAndGlyphs">Network Switch</text>
<text transform="matrix(0.87,0.5,-0.87,0.5,328.5,748)" font-family='"Liberation Sans", sans-serif' font-size="33" font-weight="normal" fill="#fff" stroke="#fff" stroke-width="1.1" textLength="162" lengthAdjust="spacingAndGlyphs">Local Display</text>
<text transform="matrix(0.87,0.5,-0.87,0.5,54.5,776.5)" font-family='"Liberation Sans", sans-serif' font-size="33" font-weight="normal" fill="#fff" stroke="#fff" stroke-width="1.1" textLength="36" lengthAdjust="spacingAndGlyphs">PC</text>
<text transform="matrix(0.87,0.5,-0.87,0.5,222,591.2)" font-family='"Liberation Sans", sans-serif' font-size="33" font-weight="normal" fill="#fff" stroke="#fff" stroke-width="1.1" textLength="31" lengthAdjust="spacingAndGlyphs">Tx</text>
<rect x="557.6" y="200" width="218" height="95.3" rx="19" fill="#eef6fc" fill-opacity="0.93" stroke="#f1c648" stroke-width="3"/>
<circle cx="598.6" cy="229.9" r="10.5" fill="#fbc12e"/>
<circle cx="686.7" cy="229.9" r="10.5" fill="#e8782b"/>
<circle cx="598.6" cy="264.7" r="10.5" fill="#8a45a8"/>
<circle cx="686.7" cy="264.7" r="10.5" fill="#1b2563"/>
<text x="614.8" y="236.2" font-family='"Liberation Sans", sans-serif' font-size="16.5" fill="#2b3442" textLength="42.8" lengthAdjust="spacingAndGlyphs">HDMI</text>
<text x="703.2" y="236.2" font-family='"Liberation Sans", sans-serif' font-size="16.5" fill="#2b3442" textLength="34.2" lengthAdjust="spacingAndGlyphs">Cat6</text>
<text x="614.8" y="270.6" font-family='"Liberation Sans", sans-serif' font-size="16.5" fill="#2b3442" textLength="47.1" lengthAdjust="spacingAndGlyphs">USB-C</text>
<text x="703.2" y="270.6" font-family='"Liberation Sans", sans-serif' font-size="16.5" fill="#2b3442" textLength="28.5" lengthAdjust="spacingAndGlyphs">HID</text>
<rect x="78" y="519" width="152.5" height="47.2" rx="8.5" fill="#eef1f5"/>
<text x="154.3" y="540" text-anchor="middle" font-family='"Liberation Sans", sans-serif' font-size="14" font-weight="bold" fill="#2b3440" textLength="116" lengthAdjust="spacingAndGlyphs">Only 1 Tx allowed</text>
<text x="154.3" y="555" text-anchor="middle" font-family='"Liberation Sans", sans-serif' font-size="14" font-weight="bold" fill="#2b3440" textLength="100" lengthAdjust="spacingAndGlyphs">per application</text>
</svg></body></html>
